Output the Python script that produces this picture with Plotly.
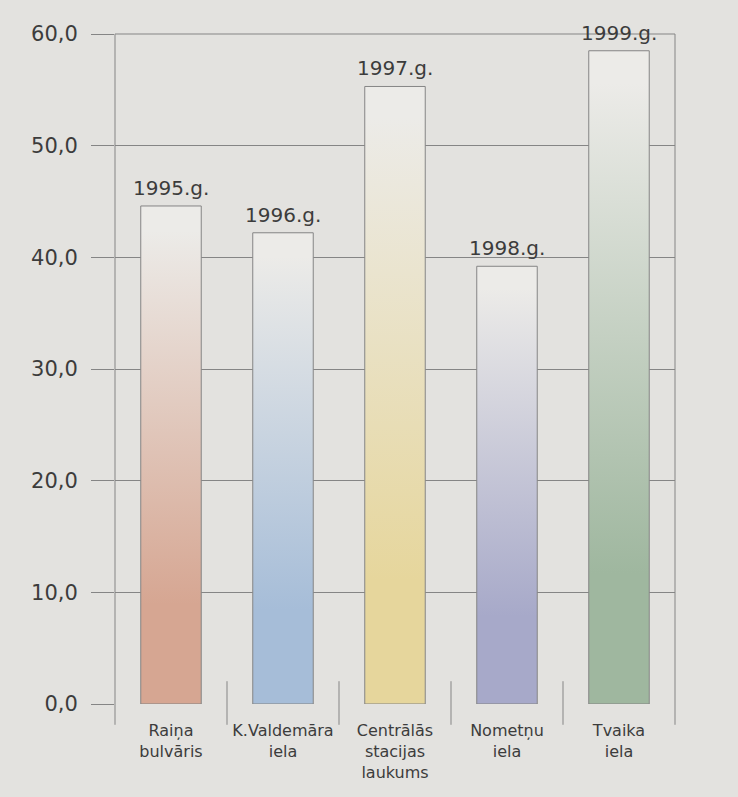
import plotly.graph_objects as go

categories = ["Raiņa<br>bulvāris", "K.Valdemāra<br>iela", "Centrālās<br>stacijas<br>laukums", "Nometņu<br>iela", "Tvaika<br>iela"]
years = ["1995.g.", "1996.g.", "1997.g.", "1998.g.", "1999.g."]
values = [44.6, 42.2, 55.3, 39.2, 58.5]
bar_colors = ["#d6a692", "#a6bdd8", "#e6d69c", "#a7a9c9", "#9fb79f"]
y_ticks = [0, 10, 20, 30, 40, 50, 60]

BG = "#e3e2df"
LINE = "#858585"
TXT = "#3c3c3c"
FONT = "DejaVu Sans"
half_w = 0.27

fig = go.Figure()
for i, (v, c) in enumerate(zip(values, bar_colors)):
    fig.add_trace(go.Scatter(
        x=[i - half_w, i + half_w, i + half_w, i - half_w, i - half_w],
        y=[0, 0, v, v, 0],
        mode="lines",
        fill="toself",
        fillgradient=dict(type="vertical", colorscale=[[0, c], [0.2, c], [0.95, "#ecebe8"], [1, "#ecebe8"]]),
        line=dict(color=LINE, width=1),
        hoverinfo="skip",
        showlegend=False,
    ))

annotations = []
for i, (v, yr) in enumerate(zip(values, years)):
    annotations.append(dict(x=i, y=v, xref="x", yref="y", text=yr, showarrow=False,
                            yanchor="bottom", yshift=4,
                            font=dict(family=FONT, size=20, color=TXT)))

shapes = []
for xp in [0, 1]:
    shapes.append(dict(type="line", xref="paper", yref="paper", x0=xp, x1=xp, y0=-0.031, y1=1,
                       line=dict(color=LINE, width=1)))
shapes.append(dict(type="line", xref="paper", yref="paper", x0=0, x1=1, y0=1, y1=1,
                   line=dict(color=LINE, width=1)))
for k in range(1, len(categories)):
    xp = k / len(categories)
    shapes.append(dict(type="line", xref="paper", yref="paper", x0=xp, x1=xp, y0=-0.031, y1=0.034,
                       line=dict(color=LINE, width=1)))

fig.update_layout(
    width=730, height=789,
    margin=dict(l=107, r=63, t=26, b=93),
    paper_bgcolor=BG, plot_bgcolor=BG,
    separators=",.",
    shapes=shapes,
    annotations=annotations,
    xaxis=dict(range=[-0.5, len(categories) - 0.5], tickvals=list(range(len(categories))),
               ticktext=categories, showgrid=False, zeroline=False, showline=False,
               ticks="", ticklabelstandoff=15,
               tickfont=dict(family=FONT, size=16, color=TXT)),
    yaxis=dict(range=[0, 60], tickvals=y_ticks, tickformat=".1f",
               showgrid=True, gridcolor=LINE, gridwidth=1, zeroline=False,
               showline=False, ticks="outside", ticklen=23, tickcolor=LINE,
               ticklabelstandoff=9,
               tickfont=dict(family=FONT, size=21, color=TXT)),
)

fig.write_html("out.html", post_script="document.body.style.backgroundColor='%s';" % BG)
